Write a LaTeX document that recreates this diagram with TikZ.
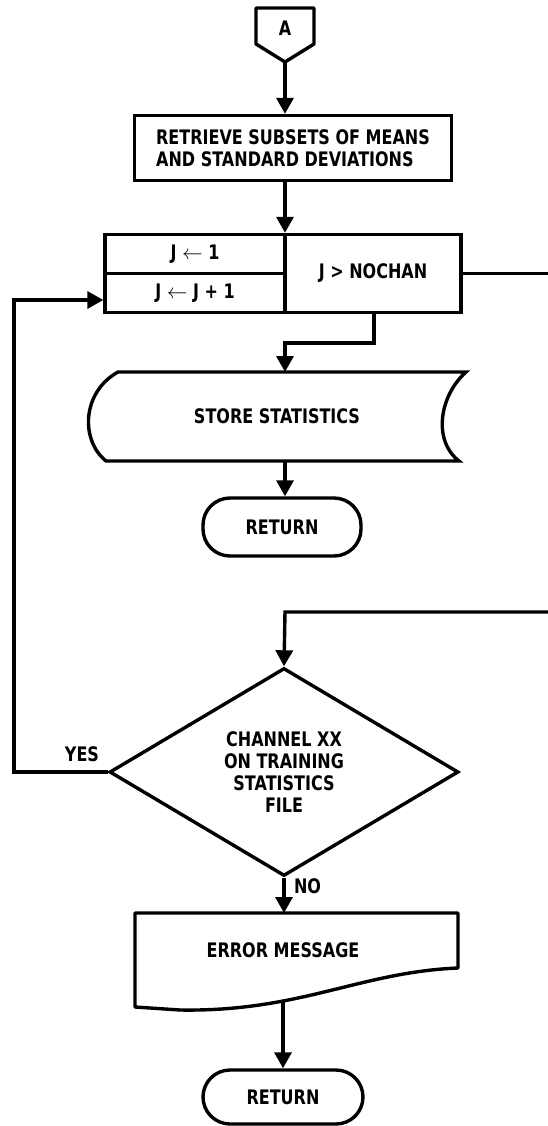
\documentclass[tikz,border=0pt]{standalone}
\usepackage{fontspec}
\setmainfont{DejaVu Sans}[FakeStretch=0.8]
\usetikzlibrary{arrows.meta,shapes.geometric}

\begin{document}
\begin{tikzpicture}[x=1pt,y=-1pt,
    line width=3.4pt,
    font=\bfseries\fontsize{20}{22}\selectfont,
    flow/.style={-{Triangle[width=17pt,length=16pt]}},
    proc/.style={draw,rectangle,inner sep=0pt},
    term/.style={draw,rectangle,rounded corners=27pt,inner sep=0pt},
    decide/.style={draw,diamond,aspect=1.68,inner sep=0pt,align=center}]
  \useasboundingbox (0,0) rectangle (548,1126);
  %
  % off-page connector A
  \node (conA) at (285,28) {A};
  \coordinate (conAtip) at (285,62);
  \draw[line join=round] (256,8) -- (314,8) -- (314,44) -- (conAtip) -- (256,44) -- cycle;
  %
  \node[proc, minimum width=317, minimum height=65, align=left] (retrieve) at (293,148)
    {RETRIEVE SUBSETS OF MEANS\\AND STANDARD DEVIATIONS};
  %
  % loop box
  \node[proc, minimum width=180, minimum height=39] (loopinit) at (195,254) {J $\leftarrow$ 1};
  \node[proc, minimum width=180, minimum height=39] (loopinc) at (195,293) {J $\leftarrow$ J + 1};
  \node[proc, minimum width=176, minimum height=78] (loopcond) at (373,273.5) {J > NOCHAN};
  %
  % store statistics
  \node (store) at (277,416) {STORE STATISTICS};
  \draw (118,372) -- (466,372) .. controls (440,395) and (432,440) .. (459,461)
    -- (106,461) .. controls (80,440) and (82,392) .. (118,372) -- cycle;
  %
  \node[term, minimum width=158, minimum height=58] (ret1) at (282,527) {RETURN};
  %
  \node[decide, minimum width=349, minimum height=208] (check) at (284,772)
    {CHANNEL XX\\ON TRAINING\\STATISTICS\\FILE};
  \node[anchor=south east] (yes) at (104,767) {YES};
  \node[anchor=west] (no) at (289,886) {NO};
  %
  % error message
  \node (errmsg) at (283,950) {ERROR MESSAGE};
  \draw[line join=round] (135,913) -- (458,913) -- (458,968)
    .. controls (360,972) and (300,1012) .. (180,1010) -- (135,1007) -- cycle;
  \coordinate (errbot) at (283,1000);
  %
  \node[term, minimum width=160, minimum height=54] (ret2) at (283,1097) {RETURN};
  %
  % connectors
  \draw[flow] (conAtip) -- (conAtip |- retrieve.north);
  \draw[flow] (conAtip |- retrieve.south) -- (conAtip |- loopinit.north);
  \draw[flow] (374,312) -- (374,343) -- (285,343) -- (285,372);
  \draw[flow] (285,461) -- (ret1.north -| 285,0);
  \draw (loopcond.east) -- (548,273.5);
  \coordinate (offpage) at (548,612);
  \draw[flow] (offpage) -- (285,612) -- (check.north);
  \draw[flow] (check.west) -- (14,772) -- (14,300) -- (loopinc.west |- 0,300);
  \draw[flow] (check.south) -- (check.south |- 0,913);
  \draw[flow] (errbot) -- (ret2.north);
\end{tikzpicture}
\end{document}
